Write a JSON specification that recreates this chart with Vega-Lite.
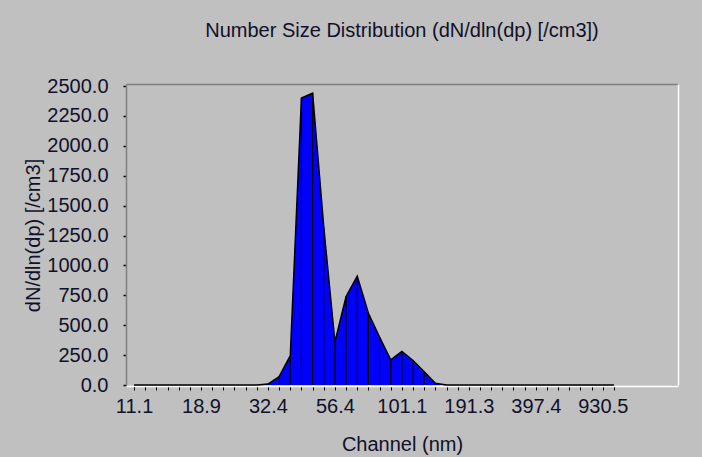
{
  "$schema": "https://vega.github.io/schema/vega-lite/v6.json",
  "width": 552,
  "height": 301,
  "autosize": "none",
  "padding": {"left": 126, "top": 84, "right": 24, "bottom": 72},
  "background": "#c0c0c0",
  "config": {
    "font": "Liberation Sans",
    "view": {"stroke": null},
    "axis": {"labelColor": "#10102a", "titleColor": "#10102a", "labelFont": "Liberation Sans", "titleFont": "Liberation Sans", "titleFontWeight": "normal", "grid": false}
  },
  "title": {
    "text": "Number Size Distribution (dN/dln(dp) [/cm3])",
    "fontSize": 20,
    "fontWeight": "normal",
    "color": "#10102a",
    "anchor": "middle",
    "baseline": "alphabetic",
    "offset": 19
  },
  "data": {
    "values": [
      {"channel": 0, "dN": 0}, {"channel": 1, "dN": 0}, {"channel": 2, "dN": 0}, {"channel": 3, "dN": 0},
      {"channel": 4, "dN": 0}, {"channel": 5, "dN": 0}, {"channel": 6, "dN": 0}, {"channel": 7, "dN": 0},
      {"channel": 8, "dN": 0}, {"channel": 9, "dN": 0}, {"channel": 10, "dN": 0}, {"channel": 11, "dN": 0},
      {"channel": 12, "dN": 8}, {"channel": 13, "dN": 70}, {"channel": 14, "dN": 245}, {"channel": 15, "dN": 2400},
      {"channel": 16, "dN": 2440}, {"channel": 17, "dN": 1320}, {"channel": 18, "dN": 360}, {"channel": 19, "dN": 740},
      {"channel": 20, "dN": 910}, {"channel": 21, "dN": 600}, {"channel": 22, "dN": 400}, {"channel": 23, "dN": 210},
      {"channel": 24, "dN": 280}, {"channel": 25, "dN": 205}, {"channel": 26, "dN": 110}, {"channel": 27, "dN": 15},
      {"channel": 28, "dN": 0}, {"channel": 29, "dN": 0}, {"channel": 30, "dN": 0}, {"channel": 31, "dN": 0},
      {"channel": 32, "dN": 0}, {"channel": 33, "dN": 0}, {"channel": 34, "dN": 0}, {"channel": 35, "dN": 0},
      {"channel": 36, "dN": 0}, {"channel": 37, "dN": 0}, {"channel": 38, "dN": 0}, {"channel": 39, "dN": 0},
      {"channel": 40, "dN": 0}, {"channel": 41, "dN": 0}, {"channel": 42, "dN": 0}, {"channel": 43, "dN": 0}
    ]
  },
  "encoding": {
    "x": {
      "field": "channel",
      "type": "quantitative",
      "scale": {"domain": [-0.72, 48.74], "nice": false, "zero": false}
    },
    "y": {
      "field": "dN",
      "type": "quantitative",
      "scale": {"domain": [0, 2517], "nice": false}
    }
  },
  "layer": [
    {
      "mark": {"type": "area", "color": "#0000ff", "opacity": 1, "line": {"color": "#000000", "strokeWidth": 1.5}},
      "encoding": {
        "x": {
          "field": "channel",
          "type": "quantitative",
          "axis": {
            "orient": "bottom",
            "zindex": 0,
            "offset": 1,
            "title": "Channel (nm)",
            "titleFontSize": 20,
            "titleX": 276,
            "titleY": 64,
            "titleAlign": "center",
            "titleBaseline": "alphabetic",
            "values": [0,1,2,3,4,5,6,7,8,9,10,11,12,13,14,15,16,17,18,19,20,21,22,23,24,25,26,27,28,29,30,31,32,33,34,35,36,37,38,39,40,41,42,43],
            "labelExpr": "datum.value % 6 == 0 ? ['11.1','18.9','32.4','56.4','101.1','191.3','397.4','930.5'][datum.value / 6] : ''",
            "labelOverlap": false,
            "labelFlush": false,
            "labelFontSize": 20,
            "labelPadding": 6,
            "domain": true,
            "domainColor": "#ffffff",
            "domainWidth": 1.5,
            "tickColor": "#000000",
            "tickSize": 4,
            "tickWidth": 1
          }
        },
        "y": {
          "field": "dN",
          "type": "quantitative",
          "axis": {
            "orient": "left",
            "title": "dN/dln(dp) [/cm3]",
            "titleFontSize": 20,
            "titleAngle": -90,
            "titleX": -93,
            "titleY": 151,
            "titleAlign": "center",
            "titleBaseline": "middle",
            "values": [0, 250, 500, 750, 1000, 1250, 1500, 1750, 2000, 2250, 2500],
            "format": ".1f",
            "labelOverlap": false,
            "labelFontSize": 20,
            "labelPadding": 15,
            "domainColor": "#808080",
            "domainWidth": 1.5,
            "tickColor": "#000000",
            "tickSize": 3,
            "tickWidth": 1.5
          }
        }
      }
    },
    {
      "mark": {"type": "rule", "color": "#000000", "strokeWidth": 1.2},
      "encoding": {
        "x": {
          "field": "channel",
          "type": "quantitative",
          "axis": {"orient": "top", "title": null, "labels": false, "ticks": false, "domainColor": "#808080", "domainWidth": 1.5}
        },
        "y": {
          "field": "dN",
          "type": "quantitative",
          "axis": {"orient": "right", "title": null, "labels": false, "ticks": false, "domainColor": "#ffffff", "domainWidth": 1.5}
        },
        "y2": {"datum": 0}
      }
    }
  ]
}
